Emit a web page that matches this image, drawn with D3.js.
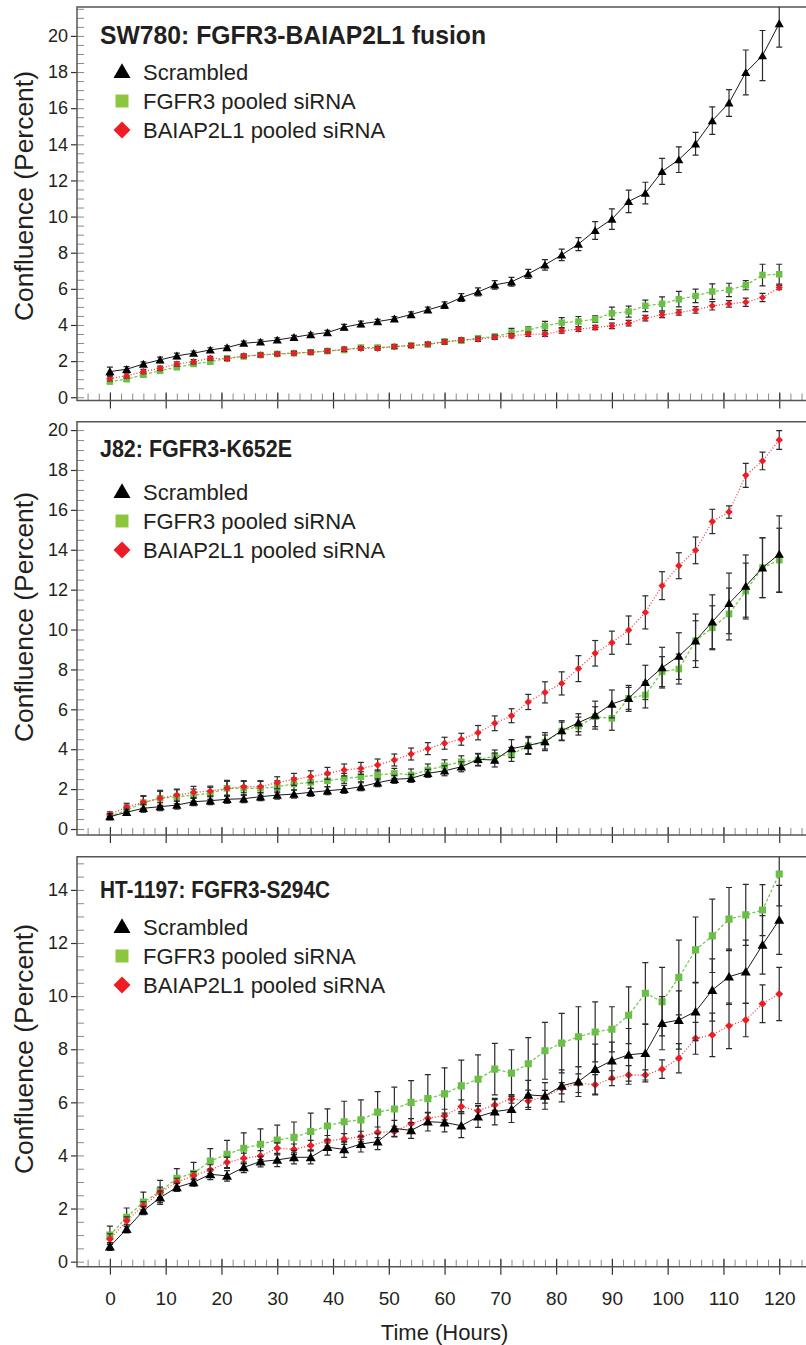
<!DOCTYPE html>
<html>
<head>
<meta charset="utf-8">
<script src="https://cdn.jsdelivr.net/npm/d3@7"></script>
<style>
    body { margin: 0; background: #ffffff; }
    svg text { font-family: "Liberation Sans", Arial, Helvetica, sans-serif; fill: #231f20; }
</style>
</head>
<body>
<div id="chart"></div>
<script>
// time points (hours)
var hours = [0, 3, 6, 9, 12, 15, 18, 21, 24, 27, 30, 33, 36, 39, 42, 45, 48, 51, 54, 57, 60,
    63, 66, 69, 72, 75, 78, 81, 84, 87, 90, 93, 96, 99, 102, 105, 108, 111, 114, 117, 120];

var seriesNames = ['Scrambled', 'FGFR3 pooled siRNA', 'BAIAP2L1 pooled siRNA'];
var xMajorTicks = [0, 10, 20, 30, 40, 50, 60, 70, 80, 90, 100, 110, 120];

// SW780
var sw780Scrambled = [1.42, 1.55, 1.84, 2.07, 2.29, 2.44, 2.62, 2.75, 2.99, 3.06, 3.17, 3.32, 3.47, 3.58, 3.88,
    4.06, 4.19, 4.34, 4.58, 4.84, 5.10, 5.52, 5.83, 6.22, 6.39, 6.83, 7.33, 7.88, 8.48, 9.23,
    9.86, 10.84, 11.3, 12.5, 13.15, 14.03, 15.31, 16.29, 17.98, 18.91, 20.68];
var sw780ScrambledErr = [0.25, 0.15, 0.12, 0.15, 0.15, 0.12, 0.12, 0.1, 0.12, 0.12, 0.12, 0.1, 0.1, 0.12, 0.15,
    0.15, 0.12, 0.12, 0.15, 0.15, 0.18, 0.21, 0.22, 0.24, 0.24, 0.25, 0.29, 0.32, 0.36, 0.49,
    0.57, 0.62, 0.6, 0.72, 0.71, 0.63, 0.76, 0.74, 1.24, 1.39, 1.3];
var sw780Fgfr3 = [0.87, 1.0, 1.24, 1.47, 1.66, 1.84, 1.97, 2.16, 2.26, 2.34, 2.4, 2.44, 2.49, 2.56, 2.62,
    2.75, 2.75, 2.8, 2.86, 2.92, 3.08, 3.14, 3.27, 3.36, 3.58, 3.73, 3.95, 4.13, 4.19, 4.32,
    4.65, 4.74, 5.06, 5.17, 5.43, 5.61, 5.85, 5.94, 6.2, 6.76, 6.81];
var sw780Fgfr3Err = [0.12, 0.1, 0.1, 0.12, 0.12, 0.1, 0.1, 0.1, 0.1, 0.1, 0.1, 0.1, 0.1, 0.1, 0.1,
    0.1, 0.1, 0.1, 0.12, 0.12, 0.12, 0.12, 0.12, 0.12, 0.23, 0.17, 0.25, 0.28, 0.28, 0.18,
    0.34, 0.3, 0.32, 0.39, 0.43, 0.37, 0.43, 0.37, 0.25, 0.6, 0.55];
var sw780Baiap = [1.05, 1.18, 1.42, 1.6, 1.84, 1.97, 2.16, 2.13, 2.29, 2.34, 2.4, 2.44, 2.49, 2.56, 2.66,
    2.71, 2.71, 2.8, 2.86, 2.94, 3.06, 3.17, 3.21, 3.32, 3.4, 3.49, 3.49, 3.67, 3.77, 3.86,
    3.95, 4.1, 4.38, 4.56, 4.69, 4.84, 5.06, 5.17, 5.26, 5.52, 6.07];
var sw780BaiapErr = [0.15, 0.12, 0.12, 0.12, 0.12, 0.12, 0.1, 0.1, 0.1, 0.1, 0.1, 0.1, 0.1, 0.1, 0.12,
    0.1, 0.1, 0.1, 0.1, 0.1, 0.12, 0.12, 0.12, 0.12, 0.12, 0.12, 0.12, 0.12, 0.12, 0.12,
    0.15, 0.15, 0.15, 0.15, 0.15, 0.18, 0.23, 0.18, 0.23, 0.23, 0.12];

// J82
var j82Scrambled = [0.62, 0.84, 1.04, 1.12, 1.2, 1.37, 1.42, 1.49, 1.52, 1.62, 1.7, 1.75, 1.84, 1.92, 1.99,
    2.12, 2.32, 2.49, 2.54, 2.79, 2.92, 3.12, 3.49, 3.46, 4.03, 4.19, 4.38, 4.93, 5.33, 5.71,
    6.27, 6.55, 7.35, 8.09, 8.67, 9.44, 10.39, 11.31, 12.18, 13.1, 13.78];
var j82ScrambledErr = [0.15, 0.15, 0.2, 0.2, 0.2, 0.2, 0.2, 0.2, 0.2, 0.2, 0.2, 0.2, 0.2, 0.2, 0.2,
    0.2, 0.2, 0.2, 0.2, 0.2, 0.25, 0.25, 0.3, 0.35, 0.45, 0.45, 0.45, 0.5, 0.45, 0.7,
    0.7, 0.65, 0.86, 1.02, 1.17, 1.34, 1.35, 1.52, 1.56, 1.5, 1.92];
var j82Fgfr3 = [0.62, 0.95, 1.32, 1.54, 1.62, 1.7, 1.79, 2.04, 2.04, 2.04, 2.12, 2.26, 2.34, 2.42, 2.54,
    2.62, 2.71, 2.79, 2.71, 2.96, 3.17, 3.37, 3.46, 3.66, 3.74, 4.18, 4.36, 4.91, 5.16, 5.63,
    5.55, 6.55, 6.72, 7.89, 8.02, 9.44, 10.09, 10.78, 11.93, 13.1, 13.48];
var j82Fgfr3Err = [0.15, 0.25, 0.35, 0.4, 0.35, 0.3, 0.3, 0.4, 0.35, 0.35, 0.3, 0.3, 0.3, 0.3, 0.25,
    0.25, 0.25, 0.25, 0.3, 0.3, 0.3, 0.3, 0.3, 0.3, 0.35, 0.4, 0.35, 0.45, 0.45, 0.5,
    0.6, 0.55, 0.65, 0.75, 0.75, 1.0, 1.1, 1.3, 1.4, 1.5, 1.6];
var j82Baiap = [0.74, 1.09, 1.34, 1.54, 1.7, 1.84, 1.9, 2.04, 2.12, 2.12, 2.32, 2.49, 2.62, 2.79, 2.96,
    3.04, 3.21, 3.46, 3.76, 4.03, 4.3, 4.5, 4.83, 5.3, 5.68, 6.37, 6.85, 7.3, 8.04, 8.81,
    9.34, 9.97, 10.86, 12.2, 13.2, 13.97, 15.42, 15.89, 17.73, 18.45, 19.5];
var j82BaiapErr = [0.12, 0.2, 0.3, 0.35, 0.3, 0.3, 0.25, 0.35, 0.3, 0.3, 0.3, 0.3, 0.3, 0.3, 0.3,
    0.3, 0.3, 0.3, 0.3, 0.3, 0.3, 0.3, 0.36, 0.37, 0.35, 0.38, 0.53, 0.58, 0.65, 0.64,
    0.58, 0.71, 0.83, 0.7, 0.65, 0.67, 0.61, 0.31, 0.6, 0.44, 0.47];

// HT-1197
var ht1197Scrambled = [0.57, 1.23, 1.92, 2.41, 2.8, 2.99, 3.29, 3.23, 3.55, 3.77, 3.83, 3.93, 3.93, 4.31, 4.23,
    4.43, 4.52, 5.02, 4.94, 5.27, 5.24, 5.12, 5.46, 5.65, 5.74, 6.28, 6.24, 6.62, 6.78, 7.25,
    7.57, 7.79, 7.85, 8.98, 9.1, 9.42, 10.23, 10.73, 10.92, 11.93, 12.87];
var ht1197ScrambledErr = [0.15, 0.15, 0.15, 0.25, 0.15, 0.15, 0.2, 0.2, 0.2, 0.2, 0.25, 0.25, 0.25, 0.3, 0.3,
    0.3, 0.3, 0.3, 0.3, 0.35, 0.35, 0.45, 0.4, 0.5, 0.5, 0.55, 0.5, 0.6, 0.56, 0.94,
    0.7, 0.99, 1.08, 1.0, 1.1, 1.1, 1.17, 1.04, 1.19, 1.1, 1.3];
var ht1197Fgfr3 = [1.0, 1.67, 2.24, 2.64, 3.14, 3.33, 3.79, 4.04, 4.27, 4.42, 4.58, 4.68, 4.9, 5.11, 5.27,
    5.34, 5.63, 5.75, 6.0, 6.14, 6.32, 6.62, 6.87, 7.25, 7.1, 7.45, 7.94, 8.23, 8.47, 8.65,
    8.75, 9.28, 10.11, 9.79, 10.7, 11.74, 12.27, 12.9, 13.06, 13.24, 14.6];
var ht1197Fgfr3Err = [0.34, 0.35, 0.38, 0.42, 0.36, 0.41, 0.47, 0.53, 0.58, 0.58, 0.56, 0.58, 0.69, 0.64, 0.77,
    0.75, 0.77, 0.82, 0.82, 0.9, 0.98, 0.97, 0.92, 0.97, 0.88, 0.99, 1.07, 1.12, 1.13, 1.13,
    0.85, 1.07, 1.15, 1.29, 1.41, 1.24, 1.38, 1.19, 1.15, 0.96, 1.2];
var ht1197Baiap = [0.85, 1.54, 2.1, 2.61, 2.99, 3.24, 3.45, 3.74, 3.89, 3.98, 4.27, 4.23, 4.37, 4.55, 4.62,
    4.71, 4.87, 4.9, 5.19, 5.4, 5.49, 5.84, 5.68, 5.9, 6.13, 6.05, 6.21, 6.53, 6.72, 6.66,
    6.91, 7.03, 7.03, 7.25, 7.66, 8.41, 8.54, 8.88, 9.1, 9.71, 10.08];
var ht1197BaiapErr = [0.2, 0.15, 0.15, 0.2, 0.15, 0.15, 0.2, 0.2, 0.2, 0.2, 0.2, 0.2, 0.2, 0.2, 0.2,
    0.2, 0.2, 0.2, 0.2, 0.2, 0.25, 0.25, 0.2, 0.2, 0.16, 0.24, 0.24, 0.21, 0.35, 0.38,
    0.28, 0.35, 0.19, 0.35, 0.55, 0.6, 0.82, 0.86, 0.63, 0.71, 1.0];

var styles = {
    scrambled: {color: '#000000', line: '#1a1a1a', dash: null, marker: 'triangle'},
    fgfr3: {color: '#6abf45', line: '#7cc653', dash: '3,2', marker: 'square'},
    baiap: {color: '#ee1c25', line: '#ef3b42', dash: '1,2', marker: 'diamond'}
};

// titles in the source are set in a condensed bold face, so they get squeezed to the measured width
var panels = [
    {title: 'SW780: FGFR3-BAIAP2L1 fusion', titleSize: 25.5, titleWidth: 386, top: 7, bottom: 400.5,
        yDomain: [-0.18, 21.6], yMaxTick: 20, titleY: 44, legendY: 72, labelY: 196, markerScale: 1,
        data: {scrambled: [sw780Scrambled, sw780ScrambledErr], fgfr3: [sw780Fgfr3, sw780Fgfr3Err], baiap: [sw780Baiap, sw780BaiapErr]}},
    {title: 'J82: FGFR3-K652E', titleSize: 23, titleWidth: 192, top: 421.7, bottom: 835,
        yDomain: [-0.3, 20.42], yMaxTick: 20, titleY: 457, legendY: 492, labelY: 617, markerScale: 1.05,
        data: {scrambled: [j82Scrambled, j82ScrambledErr], fgfr3: [j82Fgfr3, j82Fgfr3Err], baiap: [j82Baiap, j82BaiapErr]}},
    {title: 'HT-1197: FGFR3-S294C', titleSize: 23, titleWidth: 230, top: 856.7, bottom: 1266.7,
        yDomain: [-0.19, 15.25], yMaxTick: 14, titleY: 898, legendY: 927, labelY: 1049, markerScale: 1.2,
        data: {scrambled: [ht1197Scrambled, ht1197ScrambledErr], fgfr3: [ht1197Fgfr3, ht1197Fgfr3Err], baiap: [ht1197Baiap, ht1197BaiapErr]}}
];

var width = 806, height = 1345;
var left = 77, right = 806;

var svg = d3.select('#chart').append('svg')
        .attr('width', width)
        .attr('height', height);

var x = d3.scaleLinear().domain([-5.9, 124.8]).range([left, right]);

var markerPath = function(type, size) {
    if (type == 'triangle') {
        return d3.symbol().type(d3.symbolTriangle).size(size)();
    }
    // squares, and diamonds as rotated squares
    return d3.symbol().type(d3.symbolSquare).size(size)();
};

var markerTransform = function(type, px, py) {
    var t = 'translate(' + px + ',' + py + ')';
    if (type == 'triangle') t += 'translate(0,1)';
    if (type == 'diamond') t += 'rotate(45)';
    return t;
};

var styleTicks = function(color, w) {
    return function(s) {
        s.select('.domain').remove();
        s.selectAll('line').attr('stroke', color).attr('stroke-width', w);
    };
};

var renderPanel = function(p, idx) {
    var g = svg.append('g').attr('class', 'panel-' + idx);
    var y = d3.scaleLinear().domain(p.yDomain).range([p.bottom, p.top]);
    var yMajor = d3.range(0, p.yMaxTick + 0.01, 2);
    var yMinor = d3.range(0, p.yDomain[1], 0.5);
    var xMinor = d3.range(-4, 125, 2);
    var isLast = idx == panels.length - 1;

    var clipId = 'clip-' + idx;
    g.append('clipPath').attr('id', clipId)
            .append('rect')
            .attr('x', left).attr('y', p.top)
            .attr('width', right - left).attr('height', p.bottom - p.top);

    // ticks inside the frame
    g.append('g')
            .attr('transform', 'translate(' + left + ',0)')
            .call(d3.axisRight(y).tickValues(yMinor).tickSize(7).tickFormat(''))
            .call(styleTicks('#8a8a8a', 1));
    g.append('g')
            .attr('transform', 'translate(0,' + p.bottom + ')')
            .call(d3.axisTop(x).tickValues(xMinor).tickSize(7).tickFormat(''))
            .call(styleTicks('#8a8a8a', 1));
    g.append('g')
            .attr('transform', 'translate(0,' + p.bottom + ')')
            .call(d3.axisTop(x).tickValues(xMajorTicks).tickSize(8).tickFormat(''))
            .call(styleTicks('#333', 1.2));

    // outside ticks + labels
    g.append('g')
            .attr('transform', 'translate(' + left + ',0)')
            .call(d3.axisLeft(y).tickValues(yMajor).tickSize(6).tickPadding(3).tickFormat(d3.format('d')))
            .call(styleTicks('#333', 1.2))
            .call(function(s) {
                s.selectAll('text').attr('font-size', 18).attr('font-family', null).attr('fill', '#231f20');
            });

    g.append('g')
            .attr('transform', 'translate(0,' + p.bottom + ')')
            .call(d3.axisBottom(x).tickValues(xMajorTicks).tickSize(8).tickPadding(17)
                    .tickFormat(isLast ? d3.format('d') : ''))
            .call(styleTicks('#333', 1.2))
            .call(function(s) {
                s.selectAll('text').attr('font-size', 19).attr('font-family', null).attr('fill', '#231f20');
            });

    // frame
    g.append('path')
            .attr('d', 'M' + right + ',' + p.top + 'H' + left + 'V' + p.bottom + 'H' + right)
            .attr('fill', 'none')
            .attr('stroke', '#555')
            .attr('stroke-width', 1.5);

    // series, drawn green, red then black on top
    var plot = g.append('g').attr('clip-path', 'url(#' + clipId + ')');
    ['fgfr3', 'baiap', 'scrambled'].forEach(function(key) {
        var st = styles[key];
        var vals = p.data[key][0], errs = p.data[key][1];
        var pts = hours.map(function(h, i) { return {h: h, v: vals[i], e: errs[i]}; });

        plot.append('path')
                .datum(pts)
                .attr('d', d3.line().x(function(d) { return x(d.h); }).y(function(d) { return y(d.v); }))
                .attr('fill', 'none')
                .attr('stroke', st.line)
                .attr('stroke-width', key == 'scrambled' ? 1 : 1.3)
                .attr('stroke-dasharray', st.dash);

        var bars = plot.append('g').selectAll('g').data(pts).enter().append('g')
                .attr('stroke', '#2b2b2b')
                .attr('stroke-width', 1.2);
        bars.append('line')
                .attr('x1', function(d) { return x(d.h); }).attr('x2', function(d) { return x(d.h); })
                .attr('y1', function(d) { return y(d.v - d.e); }).attr('y2', function(d) { return y(d.v + d.e); });
        bars.append('line')
                .attr('x1', function(d) { return x(d.h) - 3; }).attr('x2', function(d) { return x(d.h) + 3; })
                .attr('y1', function(d) { return y(d.v + d.e); }).attr('y2', function(d) { return y(d.v + d.e); });
        bars.append('line')
                .attr('x1', function(d) { return x(d.h) - 3; }).attr('x2', function(d) { return x(d.h) + 3; })
                .attr('y1', function(d) { return y(d.v - d.e); }).attr('y2', function(d) { return y(d.v - d.e); });

        var size = (st.marker == 'triangle' ? 36 : (st.marker == 'square' ? 42 : 26)) * p.markerScale;
        plot.append('g').selectAll('path').data(pts).enter().append('path')
                .attr('d', markerPath(st.marker, size))
                .attr('transform', function(d) { return markerTransform(st.marker, x(d.h), y(d.v)); })
                .attr('fill', st.color);
    });

    // title
    g.append('text')
            .attr('x', 100)
            .attr('y', p.titleY)
            .attr('font-size', p.titleSize)
            .attr('font-weight', 'bold')
            .attr('textLength', p.titleWidth)
            .attr('lengthAdjust', 'spacingAndGlyphs')
            .text(p.title);

    // legend
    var legend = g.append('g').attr('class', 'legend');
    var legendSizes = {triangle: 125, square: 169, diamond: 144};
    ['scrambled', 'fgfr3', 'baiap'].forEach(function(key, i) {
        var st = styles[key];
        var ly = p.legendY + i * 29;
        legend.append('path')
                .attr('d', markerPath(st.marker, legendSizes[st.marker]))
                .attr('transform', markerTransform(st.marker, 122, ly))
                .attr('fill', key == 'fgfr3' ? '#8cc63f' : st.color);
        legend.append('text')
                .attr('x', 143)
                .attr('y', ly + 8)
                .attr('font-size', 22)
                .text(seriesNames[i]);
    });

    // y axis title
    g.append('text')
            .attr('transform', 'translate(33,' + p.labelY + ')rotate(-90)')
            .attr('text-anchor', 'middle')
            .attr('font-size', 25)
            .attr('textLength', 250)
            .attr('lengthAdjust', 'spacingAndGlyphs')
            .text('Confluence (Percent)');
};

panels.forEach(renderPanel);

svg.append('text')
        .attr('x', x(60))
        .attr('y', 1340)
        .attr('text-anchor', 'middle')
        .attr('font-size', 22)
        .text('Time (Hours)');
</script>
</body>
</html>
